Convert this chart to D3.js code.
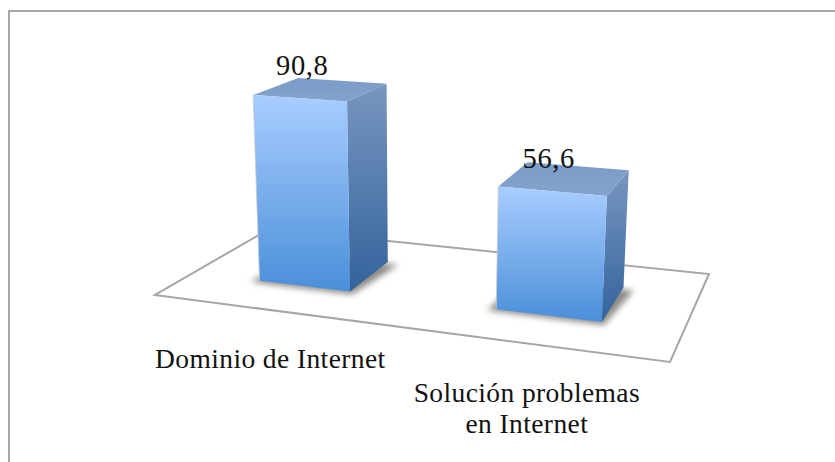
<!DOCTYPE html>
<html><head><meta charset="utf-8">
<script src="https://cdn.jsdelivr.net/npm/d3@7"></script>
<style>html,body{margin:0;padding:0;background:#fff;overflow:hidden}svg{display:block}text{font-family:"Liberation Serif",serif;fill:#111}</style>
</head><body>
<script>
const categories = ["Dominio de Internet", "Solución problemas en Internet"];
const values = [90.8, 56.6];
const valueLabels = ["90,8", "56,6"];
const categoryLines = [["Dominio de Internet"], ["Solución problemas", "en Internet"]];

const W = 835, H = 462;
const svg = d3.select("body").append("svg").attr("width", W).attr("height", H);
const defs = svg.append("defs");

function grad(id, a, b) {
  const g = defs.append("linearGradient").attr("id", id).attr("x1", 0).attr("x2", 0).attr("y1", 0).attr("y2", 1);
  g.append("stop").attr("offset", "0%").attr("stop-color", a);
  g.append("stop").attr("offset", "100%").attr("stop-color", b);
}
grad("front", "#a9cdff", "#4a8fd9");
grad("side", "#7896bf", "#33639d");
grad("top", "#7b9cc9", "#84a3cb");
defs.append("filter").attr("id", "blur").attr("x", "-30%").attr("y", "-30%").attr("width", "160%").attr("height", "160%")
  .append("feGaussianBlur").attr("stdDeviation", 3);

// perspective floor: unit square -> picture quad
const floor = { fl: [155, 295], fr: [670, 362], br: [709, 274], bl: [269.5, 228.8] };
const H3 = (() => {
  const [x0, y0] = floor.fl, [x1, y1] = floor.fr, [x2, y2] = floor.br, [x3, y3] = floor.bl;
  const dx1 = x1 - x2, dx2 = x3 - x2, sx = x0 - x1 + x2 - x3;
  const dy1 = y1 - y2, dy2 = y3 - y2, sy = y0 - y1 + y2 - y3;
  const den = dx1 * dy2 - dx2 * dy1;
  const g = (sx * dy2 - dx2 * sy) / den, h = (dx1 * sy - sx * dy1) / den;
  return { a: x1 - x0 + g * x1, b: x3 - x0 + h * x3, c: x0, d: y1 - y0 + g * y1, e: y3 - y0 + h * y3, f: y0, g, h };
})();
const project = (u, v) => {
  const w = H3.g * u + H3.h * v + 1;
  return [(H3.a * u + H3.b * v + H3.c) / w, (H3.d * u + H3.e * v + H3.f) / w];
};

const xBand = d3.scaleBand().domain(categories).range([0.004, 1.004]).paddingInner(0.6).paddingOuter(0.3);
const depthBand = d3.scaleBand().domain(["bar"]).range([0.3, 0.71]);
const yFrac = d3.scaleLinear().domain([0, 100]).range([0, 1]);
const persp = d3.scaleLinear().domain([262, 322]).range([0.0427, 0.049]);
const vanish = [419, 4860];

const lift = (p, val) => {
  const f = yFrac(val) * persp(p[1]);
  return [p[0] + (p[0] - vanish[0]) * f, p[1] + (p[1] - vanish[1]) * f];
};
const pts = a => a.map(p => p.join(",")).join(" ");
const line = d3.line();

// frame
svg.append("rect").attr("x", 9).attr("y", 11).attr("width", W + 20).attr("height", H + 20)
  .attr("fill", "#fff").attr("stroke", "#a6a6a6").attr("stroke-width", 2);

// floor
svg.append("polygon").attr("points", pts([floor.fl, floor.fr, floor.br, floor.bl]))
  .attr("fill", "#fff").attr("stroke", "#a6a6a6").attr("stroke-width", 2).attr("stroke-linejoin", "miter");

const rows = categories.map((c, i) => {
  const u0 = xBand(c), u1 = u0 + xBand.bandwidth();
  const v0 = depthBand("bar"), v1 = v0 + depthBand.bandwidth();
  const b = { fl: project(u0, v0), fr: project(u1, v0), br: project(u1, v1), bl: project(u0, v1) };
  const t = { fl: lift(b.fl, values[i]), fr: lift(b.fr, values[i]), br: lift(b.br, values[i]), bl: lift(b.bl, values[i]) };
  return { c, i, b, t };
});

const bars = svg.selectAll("g.bar").data(rows).join("g").attr("class", "bar");
// soft shadow on the floor
bars.append("polygon")
  .attr("points", d => pts([[d.b.fl[0] - 9, d.b.fl[1] + 1], [d.b.fr[0] + 2, d.b.fr[1] + 3], [d.b.br[0] + 10, d.b.br[1] + 3], [d.b.bl[0], d.b.bl[1]]]))
  .attr("fill", "#444038").attr("opacity", 0.62).attr("filter", "url(#blur)");
bars.append("polygon").attr("points", d => pts([d.t.fr, d.t.br, d.b.br, d.b.fr])).attr("fill", "url(#side)");
bars.append("polygon").attr("points", d => pts([d.t.fl, d.t.fr, d.t.br, d.t.bl])).attr("fill", "url(#top)");
bars.append("polygon").attr("points", d => pts([d.t.fl, d.t.fr, d.b.fr, d.b.fl])).attr("fill", "url(#front)");
bars.append("path").attr("d", d => line([d.t.fl, d.b.fl])).attr("stroke", "#c9c9c9").attr("stroke-width", 0.8).attr("fill", "none");

// value labels
const labelNudge = [[4, -3], [21, 6]];
svg.selectAll("text.val").data(rows).join("text").attr("class", "val")
  .attr("text-anchor", "middle").attr("font-size", 28.5).attr("letter-spacing", 0.6)
  .attr("x", d => d.t.bl[0] + labelNudge[d.i][0])
  .attr("y", d => d.t.bl[1] + labelNudge[d.i][1])
  .text(d => valueLabels[d.i]);

// category labels
const catDrop = [58, 59], lineGap = 31;
rows.forEach(d => {
  const p = project(xBand(d.c) + xBand.bandwidth() / 2, 0);
  categoryLines[d.i].forEach((l, j) => {
    svg.append("text").attr("text-anchor", "middle").attr("font-size", 27.5).attr("letter-spacing", 0.4)
      .attr("x", p[0]).attr("y", p[1] + catDrop[d.i] + j * lineGap).text(l);
  });
});
</script>
</body></html>
